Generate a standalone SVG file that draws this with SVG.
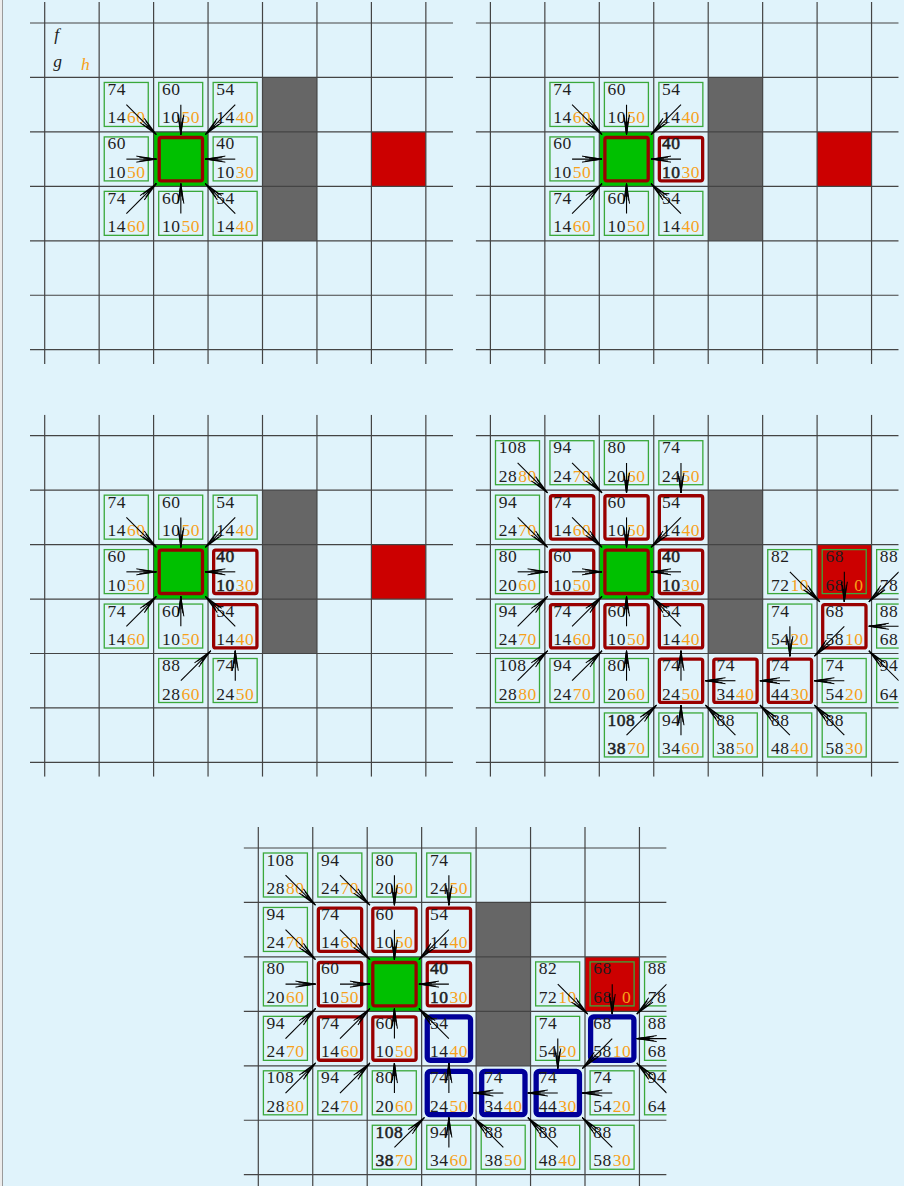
<svg xmlns="http://www.w3.org/2000/svg" xmlns:xlink="http://www.w3.org/1999/xlink" width="904" height="1186" viewBox="0 0 904 1186">
<style>
.t{font-family:"Liberation Serif","Times New Roman",serif;font-size:17.5px;letter-spacing:0.5px;fill:#1e1e1e}
.i{font-style:italic;letter-spacing:0}
.h{fill:#f7a11a;text-anchor:end}
.ho{fill:#f7a11a}
.b{stroke:#1e1e1e;stroke-width:0.55}
.ob{fill:none;stroke:#3aa83a;stroke-width:1.3}
.cb{fill:none;stroke:#990000;stroke-width:3.3}
.pb{fill:none;stroke:#000099;stroke-width:5.3}
.a{stroke:#000;stroke-width:1.1;fill:none;marker-end:url(#ah)}
.gl{fill:none;stroke:#444;stroke-width:1.2}
.wall{fill:#666}
.start{fill:#00c000}
.goal{fill:#cc0000}
</style>
<defs>
<marker id="ah" markerUnits="userSpaceOnUse" viewBox="-22 -5 24 10" markerWidth="24" markerHeight="10" refX="0" refY="0" orient="auto">
<path d="M-20,-3 L0,0 L-20,3 M-17,-2 L0,0 L-17,2 M-13,-1 L0,0 L-13,1" fill="none" stroke="#000" stroke-width="1"/>
</marker>
<clipPath id="clip"><rect x="-14.7" y="-21" width="423" height="362"/></clipPath>
<path id="grid" class="gl" d="M-14.7 0H408.3M-14.7 54.45H408.3M-14.7 108.9H408.3M-14.7 163.35H408.3M-14.7 217.8H408.3M-14.7 272.25H408.3M-14.7 326.7H408.3M0 -21V341M54.45 -21V341M108.9 -21V341M163.35 -21V341M217.8 -21V341M272.25 -21V341M326.7 -21V341M381.15 -21V341"/>
</defs>
<rect x="0" y="0" width="904" height="1186" fill="#e0f3fb"/>
<rect x="0" y="0" width="2" height="1186" fill="#ececec"/>
<line x1="2.5" y1="0" x2="2.5" y2="1186" stroke="#9a9a9a" stroke-width="1"/>

<!-- Panel 1 -->
<g id="p1" transform="translate(44.7 23)" clip-path="url(#clip)">
<rect class="wall" x="217.8" y="54.45" width="54.45" height="163.35"/>
<rect class="goal" x="326.7" y="108.9" width="54.45" height="54.45"/>
<rect class="start" x="108.9" y="108.9" width="54.45" height="54.45"/>
<use xlink:href="#grid"/>
<g id="p1-legend"><text class="t i" x="9.6" y="17.3">f</text><text class="t i" x="8.6" y="44.2">g</text><text class="t i ho" x="36.3" y="47">h</text></g>
<g id="p1-start" transform="translate(108.9 108.9)"><rect class="cb" x="5.6" y="5.6" width="43.3" height="43.3" rx="2"/></g>
<g id="p1-n1-1" transform="translate(54.45 54.45)"><rect class="ob" x="5.1" y="5" width="44" height="44"/><text class="t" x="8.3" y="17.6">74</text><text class="t" x="8.3" y="46">14</text><text class="t h" x="46.3" y="46">60</text></g>
<g id="p1-n2-1" transform="translate(108.9 54.45)"><rect class="ob" x="5.1" y="5" width="44" height="44"/><text class="t" x="8.3" y="17.6">60</text><text class="t" x="8.3" y="46">10</text><text class="t h" x="46.3" y="46">50</text></g>
<g id="p1-n3-1" transform="translate(163.35 54.45)"><rect class="ob" x="5.1" y="5" width="44" height="44"/><text class="t" x="8.3" y="17.6">54</text><text class="t" x="8.3" y="46">14</text><text class="t h" x="46.3" y="46">40</text></g>
<g id="p1-n1-2" transform="translate(54.45 108.9)"><rect class="ob" x="5.1" y="5" width="44" height="44"/><text class="t" x="8.3" y="17.6">60</text><text class="t" x="8.3" y="46">10</text><text class="t h" x="46.3" y="46">50</text></g>
<g id="p1-n3-2" transform="translate(163.35 108.9)"><rect class="ob" x="5.1" y="5" width="44" height="44"/><text class="t" x="8.3" y="17.6">40</text><text class="t" x="8.3" y="46">10</text><text class="t h" x="46.3" y="46">30</text></g>
<g id="p1-n1-3" transform="translate(54.45 163.35)"><rect class="ob" x="5.1" y="5" width="44" height="44"/><text class="t" x="8.3" y="17.6">74</text><text class="t" x="8.3" y="46">14</text><text class="t h" x="46.3" y="46">60</text></g>
<g id="p1-n2-3" transform="translate(108.9 163.35)"><rect class="ob" x="5.1" y="5" width="44" height="44"/><text class="t" x="8.3" y="17.6">60</text><text class="t" x="8.3" y="46">10</text><text class="t h" x="46.3" y="46">50</text></g>
<g id="p1-n3-3" transform="translate(163.35 163.35)"><rect class="ob" x="5.1" y="5" width="44" height="44"/><text class="t" x="8.3" y="17.6">54</text><text class="t" x="8.3" y="46">14</text><text class="t h" x="46.3" y="46">40</text></g>
<g id="p1-arrows">
<line class="a" x1="81.68" y1="81.68" x2="111.63" y2="111.63"/>
<line class="a" x1="136.13" y1="81.68" x2="136.13" y2="111.63"/>
<line class="a" x1="190.58" y1="81.68" x2="160.63" y2="111.63"/>
<line class="a" x1="81.68" y1="136.13" x2="111.63" y2="136.13"/>
<line class="a" x1="190.58" y1="136.13" x2="160.63" y2="136.13"/>
<line class="a" x1="81.68" y1="190.58" x2="111.63" y2="160.63"/>
<line class="a" x1="136.13" y1="190.58" x2="136.13" y2="160.63"/>
<line class="a" x1="190.58" y1="190.58" x2="160.63" y2="160.63"/>
</g>
</g>

<!-- Panel 2 -->
<g id="p2" transform="translate(490.4 23)" clip-path="url(#clip)">
<rect class="wall" x="217.8" y="54.45" width="54.45" height="163.35"/>
<rect class="goal" x="326.7" y="108.9" width="54.45" height="54.45"/>
<rect class="start" x="108.9" y="108.9" width="54.45" height="54.45"/>
<use xlink:href="#grid"/>
<g id="p2-start" transform="translate(108.9 108.9)"><rect class="cb" x="5.6" y="5.6" width="43.3" height="43.3" rx="2"/></g>
<g id="p2-n1-1" transform="translate(54.45 54.45)"><rect class="ob" x="5.1" y="5" width="44" height="44"/><text class="t" x="8.3" y="17.6">74</text><text class="t" x="8.3" y="46">14</text><text class="t h" x="46.3" y="46">60</text></g>
<g id="p2-n2-1" transform="translate(108.9 54.45)"><rect class="ob" x="5.1" y="5" width="44" height="44"/><text class="t" x="8.3" y="17.6">60</text><text class="t" x="8.3" y="46">10</text><text class="t h" x="46.3" y="46">50</text></g>
<g id="p2-n3-1" transform="translate(163.35 54.45)"><rect class="ob" x="5.1" y="5" width="44" height="44"/><text class="t" x="8.3" y="17.6">54</text><text class="t" x="8.3" y="46">14</text><text class="t h" x="46.3" y="46">40</text></g>
<g id="p2-n1-2" transform="translate(54.45 108.9)"><rect class="ob" x="5.1" y="5" width="44" height="44"/><text class="t" x="8.3" y="17.6">60</text><text class="t" x="8.3" y="46">10</text><text class="t h" x="46.3" y="46">50</text></g>
<g id="p2-n3-2" transform="translate(163.35 108.9)"><rect class="cb" x="5.6" y="5.6" width="43.3" height="43.3" rx="2"/><text class="t b" x="8.3" y="17.6">40</text><text class="t b" x="8.3" y="46">10</text><text class="t h" x="46.3" y="46">30</text></g>
<g id="p2-n1-3" transform="translate(54.45 163.35)"><rect class="ob" x="5.1" y="5" width="44" height="44"/><text class="t" x="8.3" y="17.6">74</text><text class="t" x="8.3" y="46">14</text><text class="t h" x="46.3" y="46">60</text></g>
<g id="p2-n2-3" transform="translate(108.9 163.35)"><rect class="ob" x="5.1" y="5" width="44" height="44"/><text class="t" x="8.3" y="17.6">60</text><text class="t" x="8.3" y="46">10</text><text class="t h" x="46.3" y="46">50</text></g>
<g id="p2-n3-3" transform="translate(163.35 163.35)"><rect class="ob" x="5.1" y="5" width="44" height="44"/><text class="t" x="8.3" y="17.6">54</text><text class="t" x="8.3" y="46">14</text><text class="t h" x="46.3" y="46">40</text></g>
<g id="p2-arrows">
<line class="a" x1="81.68" y1="81.68" x2="111.63" y2="111.63"/>
<line class="a" x1="136.13" y1="81.68" x2="136.13" y2="111.63"/>
<line class="a" x1="190.58" y1="81.68" x2="160.63" y2="111.63"/>
<line class="a" x1="81.68" y1="136.13" x2="111.63" y2="136.13"/>
<line class="a" x1="190.58" y1="136.13" x2="160.63" y2="136.13"/>
<line class="a" x1="81.68" y1="190.58" x2="111.63" y2="160.63"/>
<line class="a" x1="136.13" y1="190.58" x2="136.13" y2="160.63"/>
<line class="a" x1="190.58" y1="190.58" x2="160.63" y2="160.63"/>
</g>
</g>

<!-- Panel 3 -->
<g id="p3" transform="translate(44.7 435.7)" clip-path="url(#clip)">
<rect class="wall" x="217.8" y="54.45" width="54.45" height="163.35"/>
<rect class="goal" x="326.7" y="108.9" width="54.45" height="54.45"/>
<rect class="start" x="108.9" y="108.9" width="54.45" height="54.45"/>
<use xlink:href="#grid"/>
<g id="p3-start" transform="translate(108.9 108.9)"><rect class="cb" x="5.6" y="5.6" width="43.3" height="43.3" rx="2"/></g>
<g id="p3-n1-1" transform="translate(54.45 54.45)"><rect class="ob" x="5.1" y="5" width="44" height="44"/><text class="t" x="8.3" y="17.6">74</text><text class="t" x="8.3" y="46">14</text><text class="t h" x="46.3" y="46">60</text></g>
<g id="p3-n2-1" transform="translate(108.9 54.45)"><rect class="ob" x="5.1" y="5" width="44" height="44"/><text class="t" x="8.3" y="17.6">60</text><text class="t" x="8.3" y="46">10</text><text class="t h" x="46.3" y="46">50</text></g>
<g id="p3-n3-1" transform="translate(163.35 54.45)"><rect class="ob" x="5.1" y="5" width="44" height="44"/><text class="t" x="8.3" y="17.6">54</text><text class="t" x="8.3" y="46">14</text><text class="t h" x="46.3" y="46">40</text></g>
<g id="p3-n1-2" transform="translate(54.45 108.9)"><rect class="ob" x="5.1" y="5" width="44" height="44"/><text class="t" x="8.3" y="17.6">60</text><text class="t" x="8.3" y="46">10</text><text class="t h" x="46.3" y="46">50</text></g>
<g id="p3-n3-2" transform="translate(163.35 108.9)"><rect class="cb" x="5.6" y="5.6" width="43.3" height="43.3" rx="2"/><text class="t b" x="8.3" y="17.6">40</text><text class="t b" x="8.3" y="46">10</text><text class="t h" x="46.3" y="46">30</text></g>
<g id="p3-n1-3" transform="translate(54.45 163.35)"><rect class="ob" x="5.1" y="5" width="44" height="44"/><text class="t" x="8.3" y="17.6">74</text><text class="t" x="8.3" y="46">14</text><text class="t h" x="46.3" y="46">60</text></g>
<g id="p3-n2-3" transform="translate(108.9 163.35)"><rect class="ob" x="5.1" y="5" width="44" height="44"/><text class="t" x="8.3" y="17.6">60</text><text class="t" x="8.3" y="46">10</text><text class="t h" x="46.3" y="46">50</text></g>
<g id="p3-n3-3" transform="translate(163.35 163.35)"><rect class="cb" x="5.6" y="5.6" width="43.3" height="43.3" rx="2"/><text class="t" x="8.3" y="17.6">54</text><text class="t" x="8.3" y="46">14</text><text class="t h" x="46.3" y="46">40</text></g>
<g id="p3-n2-4" transform="translate(108.9 217.8)"><rect class="ob" x="5.1" y="5" width="44" height="44"/><text class="t" x="8.3" y="17.6">88</text><text class="t" x="8.3" y="46">28</text><text class="t h" x="46.3" y="46">60</text></g>
<g id="p3-n3-4" transform="translate(163.35 217.8)"><rect class="ob" x="5.1" y="5" width="44" height="44"/><text class="t" x="8.3" y="17.6">74</text><text class="t" x="8.3" y="46">24</text><text class="t h" x="46.3" y="46">50</text></g>
<g id="p3-arrows">
<line class="a" x1="81.68" y1="81.68" x2="111.63" y2="111.63"/>
<line class="a" x1="136.13" y1="81.68" x2="136.13" y2="111.63"/>
<line class="a" x1="190.58" y1="81.68" x2="160.63" y2="111.63"/>
<line class="a" x1="81.68" y1="136.13" x2="111.63" y2="136.13"/>
<line class="a" x1="190.58" y1="136.13" x2="160.63" y2="136.13"/>
<line class="a" x1="81.68" y1="190.58" x2="111.63" y2="160.63"/>
<line class="a" x1="136.13" y1="190.58" x2="136.13" y2="160.63"/>
<line class="a" x1="190.58" y1="190.58" x2="160.63" y2="160.63"/>
<line class="a" x1="136.13" y1="245.03" x2="166.08" y2="215.08"/>
<line class="a" x1="190.58" y1="245.03" x2="190.58" y2="215.08"/>
</g>
</g>

<!-- Panel 4 -->
<g id="p4" transform="translate(490.4 435.7)" clip-path="url(#clip)">
<rect class="wall" x="217.8" y="54.45" width="54.45" height="163.35"/>
<rect class="goal" x="326.7" y="108.9" width="54.45" height="54.45"/>
<rect class="start" x="108.9" y="108.9" width="54.45" height="54.45"/>
<use xlink:href="#grid"/>
<g id="p4-start" transform="translate(108.9 108.9)"><rect class="cb" x="5.6" y="5.6" width="43.3" height="43.3" rx="2"/></g>
<g id="p4-n0-0" transform="translate(0 0)"><rect class="ob" x="5.1" y="5" width="44" height="44"/><text class="t" x="8.3" y="17.6">108</text><text class="t" x="8.3" y="46">28</text><text class="t h" x="46.3" y="46">80</text></g>
<g id="p4-n1-0" transform="translate(54.45 0)"><rect class="ob" x="5.1" y="5" width="44" height="44"/><text class="t" x="8.3" y="17.6">94</text><text class="t" x="8.3" y="46">24</text><text class="t h" x="46.3" y="46">70</text></g>
<g id="p4-n2-0" transform="translate(108.9 0)"><rect class="ob" x="5.1" y="5" width="44" height="44"/><text class="t" x="8.3" y="17.6">80</text><text class="t" x="8.3" y="46">20</text><text class="t h" x="46.3" y="46">60</text></g>
<g id="p4-n3-0" transform="translate(163.35 0)"><rect class="ob" x="5.1" y="5" width="44" height="44"/><text class="t" x="8.3" y="17.6">74</text><text class="t" x="8.3" y="46">24</text><text class="t h" x="46.3" y="46">50</text></g>
<g id="p4-n0-1" transform="translate(0 54.45)"><rect class="ob" x="5.1" y="5" width="44" height="44"/><text class="t" x="8.3" y="17.6">94</text><text class="t" x="8.3" y="46">24</text><text class="t h" x="46.3" y="46">70</text></g>
<g id="p4-n1-1" transform="translate(54.45 54.45)"><rect class="cb" x="5.6" y="5.6" width="43.3" height="43.3" rx="2"/><text class="t" x="8.3" y="17.6">74</text><text class="t" x="8.3" y="46">14</text><text class="t h" x="46.3" y="46">60</text></g>
<g id="p4-n2-1" transform="translate(108.9 54.45)"><rect class="cb" x="5.6" y="5.6" width="43.3" height="43.3" rx="2"/><text class="t" x="8.3" y="17.6">60</text><text class="t" x="8.3" y="46">10</text><text class="t h" x="46.3" y="46">50</text></g>
<g id="p4-n3-1" transform="translate(163.35 54.45)"><rect class="cb" x="5.6" y="5.6" width="43.3" height="43.3" rx="2"/><text class="t" x="8.3" y="17.6">54</text><text class="t" x="8.3" y="46">14</text><text class="t h" x="46.3" y="46">40</text></g>
<g id="p4-n0-2" transform="translate(0 108.9)"><rect class="ob" x="5.1" y="5" width="44" height="44"/><text class="t" x="8.3" y="17.6">80</text><text class="t" x="8.3" y="46">20</text><text class="t h" x="46.3" y="46">60</text></g>
<g id="p4-n1-2" transform="translate(54.45 108.9)"><rect class="cb" x="5.6" y="5.6" width="43.3" height="43.3" rx="2"/><text class="t" x="8.3" y="17.6">60</text><text class="t" x="8.3" y="46">10</text><text class="t h" x="46.3" y="46">50</text></g>
<g id="p4-n3-2" transform="translate(163.35 108.9)"><rect class="cb" x="5.6" y="5.6" width="43.3" height="43.3" rx="2"/><text class="t b" x="8.3" y="17.6">40</text><text class="t b" x="8.3" y="46">10</text><text class="t h" x="46.3" y="46">30</text></g>
<g id="p4-n5-2" transform="translate(272.25 108.9)"><rect class="ob" x="5.1" y="5" width="44" height="44"/><text class="t" x="8.3" y="17.6">82</text><text class="t" x="8.3" y="46">72</text><text class="t h" x="46.3" y="46">10</text></g>
<g id="p4-n6-2" transform="translate(326.7 108.9)"><rect class="ob" x="5.1" y="5" width="44" height="44"/><text class="t" x="8.3" y="17.6">68</text><text class="t" x="8.3" y="46">68</text><text class="t h" x="46.3" y="46">0</text></g>
<g id="p4-n7-2" transform="translate(381.15 108.9)"><rect class="ob" x="5.1" y="5" width="44" height="44"/><text class="t" x="8.3" y="17.6">88</text><text class="t" x="8.3" y="46">78</text></g>
<g id="p4-n0-3" transform="translate(0 163.35)"><rect class="ob" x="5.1" y="5" width="44" height="44"/><text class="t" x="8.3" y="17.6">94</text><text class="t" x="8.3" y="46">24</text><text class="t h" x="46.3" y="46">70</text></g>
<g id="p4-n1-3" transform="translate(54.45 163.35)"><rect class="cb" x="5.6" y="5.6" width="43.3" height="43.3" rx="2"/><text class="t" x="8.3" y="17.6">74</text><text class="t" x="8.3" y="46">14</text><text class="t h" x="46.3" y="46">60</text></g>
<g id="p4-n2-3" transform="translate(108.9 163.35)"><rect class="cb" x="5.6" y="5.6" width="43.3" height="43.3" rx="2"/><text class="t" x="8.3" y="17.6">60</text><text class="t" x="8.3" y="46">10</text><text class="t h" x="46.3" y="46">50</text></g>
<g id="p4-n3-3" transform="translate(163.35 163.35)"><rect class="cb" x="5.6" y="5.6" width="43.3" height="43.3" rx="2"/><text class="t" x="8.3" y="17.6">54</text><text class="t" x="8.3" y="46">14</text><text class="t h" x="46.3" y="46">40</text></g>
<g id="p4-n5-3" transform="translate(272.25 163.35)"><rect class="ob" x="5.1" y="5" width="44" height="44"/><text class="t" x="8.3" y="17.6">74</text><text class="t" x="8.3" y="46">54</text><text class="t h" x="46.3" y="46">20</text></g>
<g id="p4-n6-3" transform="translate(326.7 163.35)"><rect class="cb" x="5.6" y="5.6" width="43.3" height="43.3" rx="2"/><text class="t" x="8.3" y="17.6">68</text><text class="t" x="8.3" y="46">58</text><text class="t h" x="46.3" y="46">10</text></g>
<g id="p4-n7-3" transform="translate(381.15 163.35)"><rect class="ob" x="5.1" y="5" width="44" height="44"/><text class="t" x="8.3" y="17.6">88</text><text class="t" x="8.3" y="46">68</text></g>
<g id="p4-n0-4" transform="translate(0 217.8)"><rect class="ob" x="5.1" y="5" width="44" height="44"/><text class="t" x="8.3" y="17.6">108</text><text class="t" x="8.3" y="46">28</text><text class="t h" x="46.3" y="46">80</text></g>
<g id="p4-n1-4" transform="translate(54.45 217.8)"><rect class="ob" x="5.1" y="5" width="44" height="44"/><text class="t" x="8.3" y="17.6">94</text><text class="t" x="8.3" y="46">24</text><text class="t h" x="46.3" y="46">70</text></g>
<g id="p4-n2-4" transform="translate(108.9 217.8)"><rect class="ob" x="5.1" y="5" width="44" height="44"/><text class="t" x="8.3" y="17.6">80</text><text class="t" x="8.3" y="46">20</text><text class="t h" x="46.3" y="46">60</text></g>
<g id="p4-n3-4" transform="translate(163.35 217.8)"><rect class="cb" x="5.6" y="5.6" width="43.3" height="43.3" rx="2"/><text class="t" x="8.3" y="17.6">74</text><text class="t" x="8.3" y="46">24</text><text class="t h" x="46.3" y="46">50</text></g>
<g id="p4-n4-4" transform="translate(217.8 217.8)"><rect class="cb" x="5.6" y="5.6" width="43.3" height="43.3" rx="2"/><text class="t" x="8.3" y="17.6">74</text><text class="t" x="8.3" y="46">34</text><text class="t h" x="46.3" y="46">40</text></g>
<g id="p4-n5-4" transform="translate(272.25 217.8)"><rect class="cb" x="5.6" y="5.6" width="43.3" height="43.3" rx="2"/><text class="t" x="8.3" y="17.6">74</text><text class="t" x="8.3" y="46">44</text><text class="t h" x="46.3" y="46">30</text></g>
<g id="p4-n6-4" transform="translate(326.7 217.8)"><rect class="ob" x="5.1" y="5" width="44" height="44"/><text class="t" x="8.3" y="17.6">74</text><text class="t" x="8.3" y="46">54</text><text class="t h" x="46.3" y="46">20</text></g>
<g id="p4-n7-4" transform="translate(381.15 217.8)"><rect class="ob" x="5.1" y="5" width="44" height="44"/><text class="t" x="8.3" y="17.6">94</text><text class="t" x="8.3" y="46">64</text></g>
<g id="p4-n2-5" transform="translate(108.9 272.25)"><rect class="ob" x="5.1" y="5" width="44" height="44"/><text class="t b" x="8.3" y="17.6">108</text><text class="t b" x="8.3" y="46">38</text><text class="t h" x="46.3" y="46">70</text></g>
<g id="p4-n3-5" transform="translate(163.35 272.25)"><rect class="ob" x="5.1" y="5" width="44" height="44"/><text class="t" x="8.3" y="17.6">94</text><text class="t" x="8.3" y="46">34</text><text class="t h" x="46.3" y="46">60</text></g>
<g id="p4-n4-5" transform="translate(217.8 272.25)"><rect class="ob" x="5.1" y="5" width="44" height="44"/><text class="t" x="8.3" y="17.6">88</text><text class="t" x="8.3" y="46">38</text><text class="t h" x="46.3" y="46">50</text></g>
<g id="p4-n5-5" transform="translate(272.25 272.25)"><rect class="ob" x="5.1" y="5" width="44" height="44"/><text class="t" x="8.3" y="17.6">88</text><text class="t" x="8.3" y="46">48</text><text class="t h" x="46.3" y="46">40</text></g>
<g id="p4-n6-5" transform="translate(326.7 272.25)"><rect class="ob" x="5.1" y="5" width="44" height="44"/><text class="t" x="8.3" y="17.6">88</text><text class="t" x="8.3" y="46">58</text><text class="t h" x="46.3" y="46">30</text></g>
<g id="p4-arrows">
<line class="a" x1="27.23" y1="27.23" x2="57.18" y2="57.18"/>
<line class="a" x1="81.68" y1="27.23" x2="111.63" y2="57.18"/>
<line class="a" x1="136.13" y1="27.23" x2="136.13" y2="57.18"/>
<line class="a" x1="190.58" y1="27.23" x2="190.58" y2="57.18"/>
<line class="a" x1="27.23" y1="81.68" x2="57.18" y2="111.63"/>
<line class="a" x1="81.68" y1="81.68" x2="111.63" y2="111.63"/>
<line class="a" x1="136.13" y1="81.68" x2="136.13" y2="111.63"/>
<line class="a" x1="190.58" y1="81.68" x2="160.63" y2="111.63"/>
<line class="a" x1="27.23" y1="136.13" x2="57.18" y2="136.13"/>
<line class="a" x1="81.68" y1="136.13" x2="111.63" y2="136.13"/>
<line class="a" x1="190.58" y1="136.13" x2="160.63" y2="136.13"/>
<line class="a" x1="299.48" y1="136.13" x2="329.43" y2="166.08"/>
<line class="a" x1="353.93" y1="136.13" x2="353.93" y2="166.08"/>
<line class="a" x1="408.38" y1="136.13" x2="378.43" y2="166.08"/>
<line class="a" x1="27.23" y1="190.58" x2="57.18" y2="160.63"/>
<line class="a" x1="81.68" y1="190.58" x2="111.63" y2="160.63"/>
<line class="a" x1="136.13" y1="190.58" x2="136.13" y2="160.63"/>
<line class="a" x1="190.58" y1="190.58" x2="160.63" y2="160.63"/>
<line class="a" x1="299.48" y1="190.58" x2="299.48" y2="220.53"/>
<line class="a" x1="353.93" y1="190.58" x2="323.98" y2="220.53"/>
<line class="a" x1="408.38" y1="190.58" x2="378.43" y2="190.58"/>
<line class="a" x1="27.23" y1="245.03" x2="57.18" y2="215.08"/>
<line class="a" x1="81.68" y1="245.03" x2="111.63" y2="215.08"/>
<line class="a" x1="136.13" y1="245.03" x2="136.13" y2="215.08"/>
<line class="a" x1="190.58" y1="245.03" x2="190.58" y2="215.08"/>
<line class="a" x1="245.03" y1="245.03" x2="215.08" y2="245.03"/>
<line class="a" x1="299.48" y1="245.03" x2="269.53" y2="245.03"/>
<line class="a" x1="353.93" y1="245.03" x2="323.98" y2="245.03"/>
<line class="a" x1="408.38" y1="245.03" x2="378.43" y2="215.08"/>
<line class="a" x1="136.13" y1="299.48" x2="166.08" y2="269.53"/>
<line class="a" x1="190.58" y1="299.48" x2="190.58" y2="269.53"/>
<line class="a" x1="245.03" y1="299.48" x2="215.08" y2="269.53"/>
<line class="a" x1="299.48" y1="299.48" x2="269.53" y2="269.53"/>
<line class="a" x1="353.93" y1="299.48" x2="323.98" y2="269.53"/>
</g>
</g>

<!-- Panel 5 -->
<g id="p5" transform="translate(258.3 848)" clip-path="url(#clip)">
<rect class="wall" x="217.8" y="54.45" width="54.45" height="163.35"/>
<rect class="goal" x="326.7" y="108.9" width="54.45" height="54.45"/>
<rect class="start" x="108.9" y="108.9" width="54.45" height="54.45"/>
<use xlink:href="#grid"/>
<g id="p5-start" transform="translate(108.9 108.9)"><rect class="cb" x="5.6" y="5.6" width="43.3" height="43.3" rx="2"/></g>
<g id="p5-n0-0" transform="translate(0 0)"><rect class="ob" x="5.1" y="5" width="44" height="44"/><text class="t" x="8.3" y="17.6">108</text><text class="t" x="8.3" y="46">28</text><text class="t h" x="46.3" y="46">80</text></g>
<g id="p5-n1-0" transform="translate(54.45 0)"><rect class="ob" x="5.1" y="5" width="44" height="44"/><text class="t" x="8.3" y="17.6">94</text><text class="t" x="8.3" y="46">24</text><text class="t h" x="46.3" y="46">70</text></g>
<g id="p5-n2-0" transform="translate(108.9 0)"><rect class="ob" x="5.1" y="5" width="44" height="44"/><text class="t" x="8.3" y="17.6">80</text><text class="t" x="8.3" y="46">20</text><text class="t h" x="46.3" y="46">60</text></g>
<g id="p5-n3-0" transform="translate(163.35 0)"><rect class="ob" x="5.1" y="5" width="44" height="44"/><text class="t" x="8.3" y="17.6">74</text><text class="t" x="8.3" y="46">24</text><text class="t h" x="46.3" y="46">50</text></g>
<g id="p5-n0-1" transform="translate(0 54.45)"><rect class="ob" x="5.1" y="5" width="44" height="44"/><text class="t" x="8.3" y="17.6">94</text><text class="t" x="8.3" y="46">24</text><text class="t h" x="46.3" y="46">70</text></g>
<g id="p5-n1-1" transform="translate(54.45 54.45)"><rect class="cb" x="5.6" y="5.6" width="43.3" height="43.3" rx="2"/><text class="t" x="8.3" y="17.6">74</text><text class="t" x="8.3" y="46">14</text><text class="t h" x="46.3" y="46">60</text></g>
<g id="p5-n2-1" transform="translate(108.9 54.45)"><rect class="cb" x="5.6" y="5.6" width="43.3" height="43.3" rx="2"/><text class="t" x="8.3" y="17.6">60</text><text class="t" x="8.3" y="46">10</text><text class="t h" x="46.3" y="46">50</text></g>
<g id="p5-n3-1" transform="translate(163.35 54.45)"><rect class="cb" x="5.6" y="5.6" width="43.3" height="43.3" rx="2"/><text class="t" x="8.3" y="17.6">54</text><text class="t" x="8.3" y="46">14</text><text class="t h" x="46.3" y="46">40</text></g>
<g id="p5-n0-2" transform="translate(0 108.9)"><rect class="ob" x="5.1" y="5" width="44" height="44"/><text class="t" x="8.3" y="17.6">80</text><text class="t" x="8.3" y="46">20</text><text class="t h" x="46.3" y="46">60</text></g>
<g id="p5-n1-2" transform="translate(54.45 108.9)"><rect class="cb" x="5.6" y="5.6" width="43.3" height="43.3" rx="2"/><text class="t" x="8.3" y="17.6">60</text><text class="t" x="8.3" y="46">10</text><text class="t h" x="46.3" y="46">50</text></g>
<g id="p5-n3-2" transform="translate(163.35 108.9)"><rect class="cb" x="5.6" y="5.6" width="43.3" height="43.3" rx="2"/><text class="t b" x="8.3" y="17.6">40</text><text class="t b" x="8.3" y="46">10</text><text class="t h" x="46.3" y="46">30</text></g>
<g id="p5-n5-2" transform="translate(272.25 108.9)"><rect class="ob" x="5.1" y="5" width="44" height="44"/><text class="t" x="8.3" y="17.6">82</text><text class="t" x="8.3" y="46">72</text><text class="t h" x="46.3" y="46">10</text></g>
<g id="p5-n6-2" transform="translate(326.7 108.9)"><rect class="ob" x="5.1" y="5" width="44" height="44"/><text class="t" x="8.3" y="17.6">68</text><text class="t" x="8.3" y="46">68</text><text class="t h" x="46.3" y="46">0</text></g>
<g id="p5-n7-2" transform="translate(381.15 108.9)"><rect class="ob" x="5.1" y="5" width="44" height="44"/><text class="t" x="8.3" y="17.6">88</text><text class="t" x="8.3" y="46">78</text></g>
<g id="p5-n0-3" transform="translate(0 163.35)"><rect class="ob" x="5.1" y="5" width="44" height="44"/><text class="t" x="8.3" y="17.6">94</text><text class="t" x="8.3" y="46">24</text><text class="t h" x="46.3" y="46">70</text></g>
<g id="p5-n1-3" transform="translate(54.45 163.35)"><rect class="cb" x="5.6" y="5.6" width="43.3" height="43.3" rx="2"/><text class="t" x="8.3" y="17.6">74</text><text class="t" x="8.3" y="46">14</text><text class="t h" x="46.3" y="46">60</text></g>
<g id="p5-n2-3" transform="translate(108.9 163.35)"><rect class="cb" x="5.6" y="5.6" width="43.3" height="43.3" rx="2"/><text class="t" x="8.3" y="17.6">60</text><text class="t" x="8.3" y="46">10</text><text class="t h" x="46.3" y="46">50</text></g>
<g id="p5-n3-3" transform="translate(163.35 163.35)"><rect class="pb" x="5.6" y="5.6" width="43.3" height="43.3" rx="3"/><text class="t" x="8.3" y="17.6">54</text><text class="t" x="8.3" y="46">14</text><text class="t h" x="46.3" y="46">40</text></g>
<g id="p5-n5-3" transform="translate(272.25 163.35)"><rect class="ob" x="5.1" y="5" width="44" height="44"/><text class="t" x="8.3" y="17.6">74</text><text class="t" x="8.3" y="46">54</text><text class="t h" x="46.3" y="46">20</text></g>
<g id="p5-n6-3" transform="translate(326.7 163.35)"><rect class="pb" x="5.6" y="5.6" width="43.3" height="43.3" rx="3"/><text class="t" x="8.3" y="17.6">68</text><text class="t" x="8.3" y="46">58</text><text class="t h" x="46.3" y="46">10</text></g>
<g id="p5-n7-3" transform="translate(381.15 163.35)"><rect class="ob" x="5.1" y="5" width="44" height="44"/><text class="t" x="8.3" y="17.6">88</text><text class="t" x="8.3" y="46">68</text></g>
<g id="p5-n0-4" transform="translate(0 217.8)"><rect class="ob" x="5.1" y="5" width="44" height="44"/><text class="t" x="8.3" y="17.6">108</text><text class="t" x="8.3" y="46">28</text><text class="t h" x="46.3" y="46">80</text></g>
<g id="p5-n1-4" transform="translate(54.45 217.8)"><rect class="ob" x="5.1" y="5" width="44" height="44"/><text class="t" x="8.3" y="17.6">94</text><text class="t" x="8.3" y="46">24</text><text class="t h" x="46.3" y="46">70</text></g>
<g id="p5-n2-4" transform="translate(108.9 217.8)"><rect class="ob" x="5.1" y="5" width="44" height="44"/><text class="t" x="8.3" y="17.6">80</text><text class="t" x="8.3" y="46">20</text><text class="t h" x="46.3" y="46">60</text></g>
<g id="p5-n3-4" transform="translate(163.35 217.8)"><rect class="pb" x="5.6" y="5.6" width="43.3" height="43.3" rx="3"/><text class="t" x="8.3" y="17.6">74</text><text class="t" x="8.3" y="46">24</text><text class="t h" x="46.3" y="46">50</text></g>
<g id="p5-n4-4" transform="translate(217.8 217.8)"><rect class="pb" x="5.6" y="5.6" width="43.3" height="43.3" rx="3"/><text class="t" x="8.3" y="17.6">74</text><text class="t" x="8.3" y="46">34</text><text class="t h" x="46.3" y="46">40</text></g>
<g id="p5-n5-4" transform="translate(272.25 217.8)"><rect class="pb" x="5.6" y="5.6" width="43.3" height="43.3" rx="3"/><text class="t" x="8.3" y="17.6">74</text><text class="t" x="8.3" y="46">44</text><text class="t h" x="46.3" y="46">30</text></g>
<g id="p5-n6-4" transform="translate(326.7 217.8)"><rect class="ob" x="5.1" y="5" width="44" height="44"/><text class="t" x="8.3" y="17.6">74</text><text class="t" x="8.3" y="46">54</text><text class="t h" x="46.3" y="46">20</text></g>
<g id="p5-n7-4" transform="translate(381.15 217.8)"><rect class="ob" x="5.1" y="5" width="44" height="44"/><text class="t" x="8.3" y="17.6">94</text><text class="t" x="8.3" y="46">64</text></g>
<g id="p5-n2-5" transform="translate(108.9 272.25)"><rect class="ob" x="5.1" y="5" width="44" height="44"/><text class="t b" x="8.3" y="17.6">108</text><text class="t b" x="8.3" y="46">38</text><text class="t h" x="46.3" y="46">70</text></g>
<g id="p5-n3-5" transform="translate(163.35 272.25)"><rect class="ob" x="5.1" y="5" width="44" height="44"/><text class="t" x="8.3" y="17.6">94</text><text class="t" x="8.3" y="46">34</text><text class="t h" x="46.3" y="46">60</text></g>
<g id="p5-n4-5" transform="translate(217.8 272.25)"><rect class="ob" x="5.1" y="5" width="44" height="44"/><text class="t" x="8.3" y="17.6">88</text><text class="t" x="8.3" y="46">38</text><text class="t h" x="46.3" y="46">50</text></g>
<g id="p5-n5-5" transform="translate(272.25 272.25)"><rect class="ob" x="5.1" y="5" width="44" height="44"/><text class="t" x="8.3" y="17.6">88</text><text class="t" x="8.3" y="46">48</text><text class="t h" x="46.3" y="46">40</text></g>
<g id="p5-n6-5" transform="translate(326.7 272.25)"><rect class="ob" x="5.1" y="5" width="44" height="44"/><text class="t" x="8.3" y="17.6">88</text><text class="t" x="8.3" y="46">58</text><text class="t h" x="46.3" y="46">30</text></g>
<g id="p5-arrows">
<line class="a" x1="27.23" y1="27.23" x2="57.18" y2="57.18"/>
<line class="a" x1="81.68" y1="27.23" x2="111.63" y2="57.18"/>
<line class="a" x1="136.13" y1="27.23" x2="136.13" y2="57.18"/>
<line class="a" x1="190.58" y1="27.23" x2="190.58" y2="57.18"/>
<line class="a" x1="27.23" y1="81.68" x2="57.18" y2="111.63"/>
<line class="a" x1="81.68" y1="81.68" x2="111.63" y2="111.63"/>
<line class="a" x1="136.13" y1="81.68" x2="136.13" y2="111.63"/>
<line class="a" x1="190.58" y1="81.68" x2="160.63" y2="111.63"/>
<line class="a" x1="27.23" y1="136.13" x2="57.18" y2="136.13"/>
<line class="a" x1="81.68" y1="136.13" x2="111.63" y2="136.13"/>
<line class="a" x1="190.58" y1="136.13" x2="160.63" y2="136.13"/>
<line class="a" x1="299.48" y1="136.13" x2="329.43" y2="166.08"/>
<line class="a" x1="353.93" y1="136.13" x2="353.93" y2="166.08"/>
<line class="a" x1="408.38" y1="136.13" x2="378.43" y2="166.08"/>
<line class="a" x1="27.23" y1="190.58" x2="57.18" y2="160.63"/>
<line class="a" x1="81.68" y1="190.58" x2="111.63" y2="160.63"/>
<line class="a" x1="136.13" y1="190.58" x2="136.13" y2="160.63"/>
<line class="a" x1="190.58" y1="190.58" x2="160.63" y2="160.63"/>
<line class="a" x1="299.48" y1="190.58" x2="299.48" y2="220.53"/>
<line class="a" x1="353.93" y1="190.58" x2="323.98" y2="220.53"/>
<line class="a" x1="408.38" y1="190.58" x2="378.43" y2="190.58"/>
<line class="a" x1="27.23" y1="245.03" x2="57.18" y2="215.08"/>
<line class="a" x1="81.68" y1="245.03" x2="111.63" y2="215.08"/>
<line class="a" x1="136.13" y1="245.03" x2="136.13" y2="215.08"/>
<line class="a" x1="190.58" y1="245.03" x2="190.58" y2="215.08"/>
<line class="a" x1="245.03" y1="245.03" x2="215.08" y2="245.03"/>
<line class="a" x1="299.48" y1="245.03" x2="269.53" y2="245.03"/>
<line class="a" x1="353.93" y1="245.03" x2="323.98" y2="245.03"/>
<line class="a" x1="408.38" y1="245.03" x2="378.43" y2="215.08"/>
<line class="a" x1="136.13" y1="299.48" x2="166.08" y2="269.53"/>
<line class="a" x1="190.58" y1="299.48" x2="190.58" y2="269.53"/>
<line class="a" x1="245.03" y1="299.48" x2="215.08" y2="269.53"/>
<line class="a" x1="299.48" y1="299.48" x2="269.53" y2="269.53"/>
<line class="a" x1="353.93" y1="299.48" x2="323.98" y2="269.53"/>
</g>
</g>
</svg>
